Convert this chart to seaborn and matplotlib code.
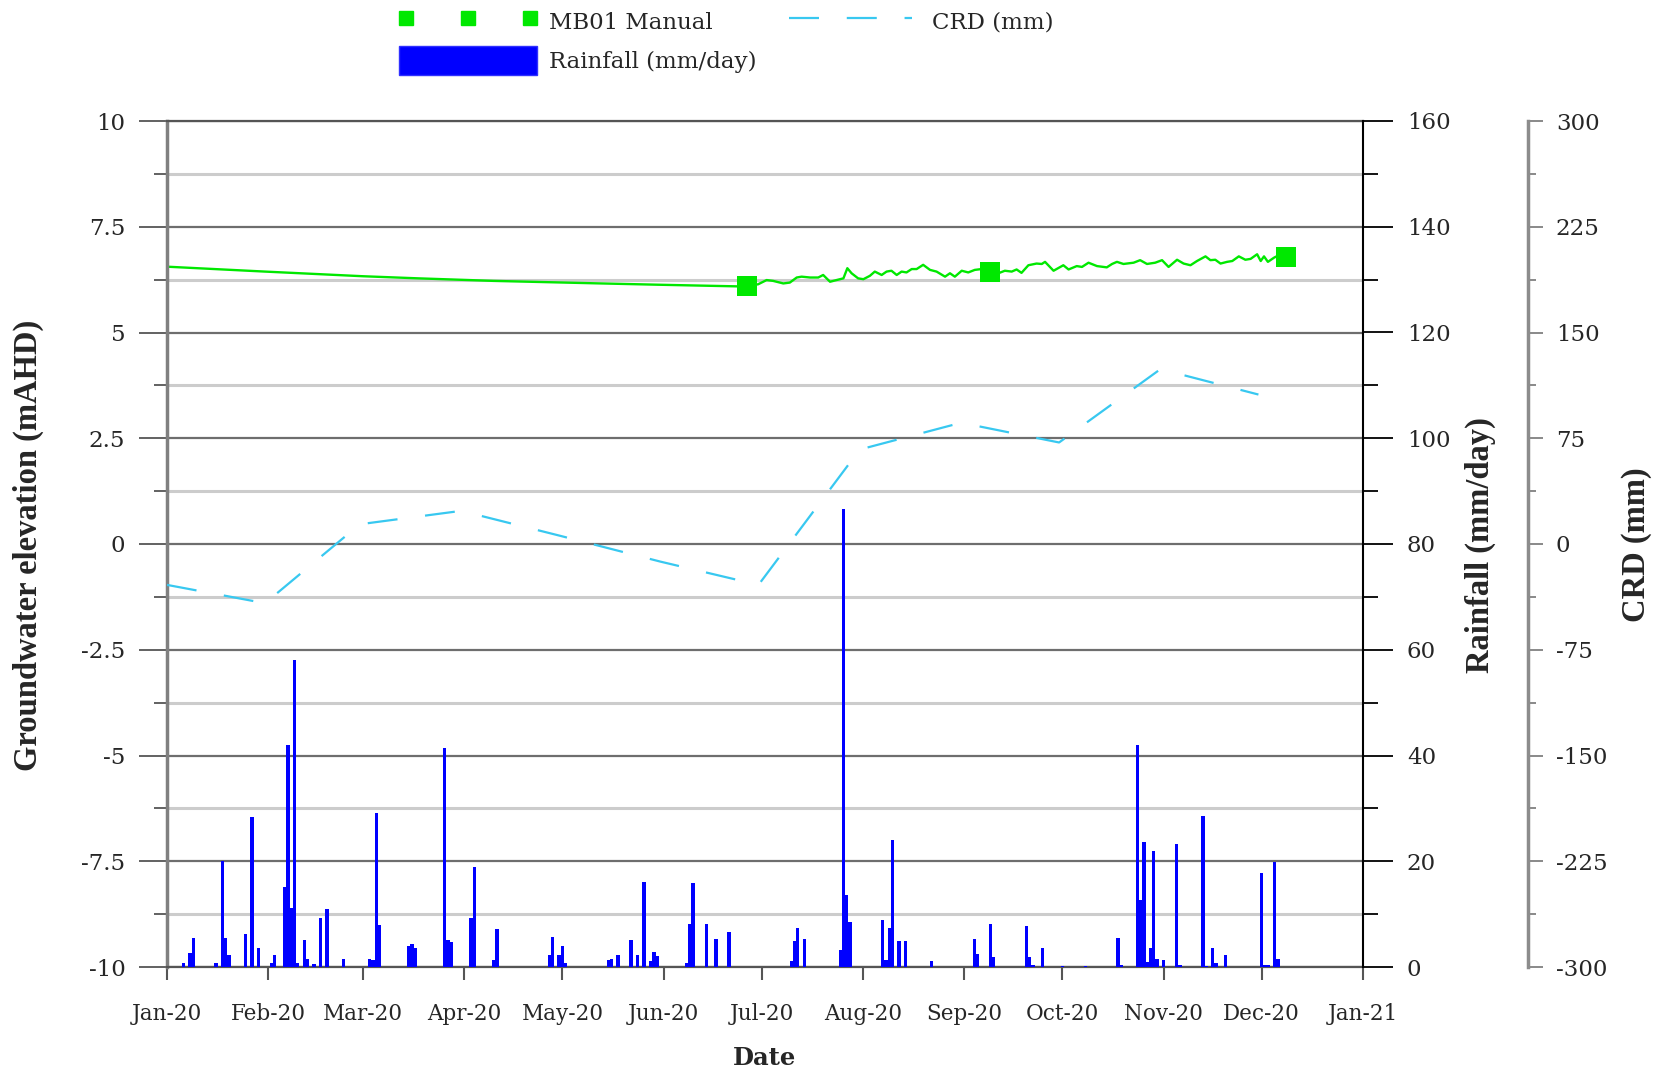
import matplotlib
matplotlib.use("Agg")
import matplotlib.dates as mdates
import matplotlib.pyplot as plt
import numpy as np
import pandas as pd
import seaborn as sns
from matplotlib.lines import Line2D
from matplotlib.patches import Patch
from matplotlib.ticker import FuncFormatter, MultipleLocator

START = pd.Timestamp("2020-01-01")
END = pd.Timestamp("2021-01-01")

# groundwater logger, days after 1 Jan 2020 / mAHD
gw_day = [0, 30, 60, 77, 100, 131, 150, 175, 177.4, 180.9, 183.5, 185.5, 188.6, 190.6,
          192.7, 194.2, 196.8, 199.3, 200.8, 202.9, 204.9, 207, 208.2, 209.5, 211.5,
          213.1, 215.1, 216.6, 218.7, 220.2, 221.7, 223.3, 224.8, 226.3, 227.9, 229.4,
          231.4, 233.5, 235.5, 238.1, 239.6, 241.1, 243.2, 245.2, 247.2, 249.3, 251.8,
          254.4, 256.4, 258.5, 260, 261.5, 263.6, 266.1, 267.7, 268.7, 271.3, 274.3,
          275.9, 278.4, 280, 282, 284.6, 287.6, 289.2, 290.7, 292.7, 295.8, 297.8,
          299.9, 302.4, 304.5, 306.5, 309.1, 311.1, 313.2, 315.2, 317.8, 319.3, 320.8,
          322.4, 324.4, 326, 328, 330, 331.6, 333.6, 334.7, 335.7, 336.9, 338.8, 340.3,
          342.3]
gw_level = [6.556, 6.44, 6.33, 6.28, 6.22, 6.163, 6.13, 6.09, 6.10, 6.14, 6.24, 6.22,
            6.16, 6.18, 6.30, 6.32, 6.30, 6.30, 6.36, 6.20, 6.24, 6.28, 6.52, 6.40, 6.28,
            6.26, 6.34, 6.44, 6.36, 6.44, 6.46, 6.36, 6.44, 6.42, 6.50, 6.50, 6.60, 6.48,
            6.44, 6.32, 6.40, 6.32, 6.46, 6.42, 6.48, 6.50, 6.44, 6.40, 6.46, 6.44, 6.49,
            6.41, 6.59, 6.63, 6.62, 6.67, 6.46, 6.59, 6.49, 6.57, 6.55, 6.65, 6.57, 6.54,
            6.62, 6.67, 6.62, 6.65, 6.71, 6.62, 6.65, 6.71, 6.55, 6.72, 6.63, 6.59, 6.69,
            6.80, 6.71, 6.72, 6.63, 6.67, 6.69, 6.80, 6.72, 6.74, 6.85, 6.69, 6.80, 6.67,
            6.77, 6.83, 6.78]

manual_day = [177.4, 251.8, 342.3]
manual_level = [6.106, 6.44, 6.78]

crd_day = [0, 30, 59, 90, 120, 151, 181, 212, 243, 273, 304, 334]
crd_mm = [-29, -42, 14, 23.5, 6, -12.5, -29, 67, 86, 72, 124, 106]

rain_day = [5, 7, 8, 15, 17, 18, 19, 24, 26, 28, 32, 33, 36, 37, 38, 39, 40, 42, 43, 45,
            47, 49, 54, 62, 63, 64, 65, 74, 75, 76, 85, 86, 87, 93, 94, 100, 101, 117,
            118, 120, 121, 122, 135, 136, 138, 142, 144, 146, 148, 149, 150, 159, 160,
            161, 165, 168, 172, 191, 192, 193, 195, 206, 207, 208, 209, 219, 220, 221,
            222, 224, 226, 234, 247, 248, 252, 253, 263, 264, 265, 268, 274, 281, 291,
            292, 297, 298, 299, 300, 301, 302, 303, 305, 309, 310, 317, 318, 320, 321,
            324, 335, 336, 337, 339, 340]
rain_mm = [0.8, 2.7, 5.4, 0.8, 20, 5.4, 2.2, 6.2, 28.3, 3.6, 0.8, 2.2, 15.2, 41.9, 11.1,
           58.1, 0.8, 5.1, 1.6, 0.5, 9.2, 10.9, 1.6, 1.6, 1.3, 29.2, 7.9, 4.0, 4.4, 3.6,
           41.5, 5.1, 4.8, 9.2, 19, 1.3, 7.1, 2.2, 5.7, 2.2, 4.0, 0.8, 1.3, 1.6, 2.2, 5.1,
           2.2, 16, 1.1, 2.8, 2.1, 0.7, 8.1, 15.9, 8.1, 5.3, 6.7, 1.1, 4.9, 7.4, 5.3, 3.2,
           86.7, 13.7, 8.5, 8.8, 1.4, 7.4, 24, 4.9, 4.9, 1.1, 5.3, 2.5, 8.1, 1.8, 7.8, 1.9,
           0.3, 3.6, 0.1, 0.1, 5.4, 0.4, 41.9, 12.7, 23.6, 1.0, 3.6, 21.9, 1.6, 1.3, 23.3,
           0.3, 28.6, 0.1, 3.6, 0.8, 2.2, 17.7, 0.4, 0.4, 19.8, 1.6]

GREEN = "#00E800"
CRD_COLOR = "#38C8F0"
RAIN_COLOR = "#0000FF"


def to_dates(days):
    return START + pd.to_timedelta(np.array(days, dtype=float), unit="D")


sns.set_style("white")
plt.rcParams["font.family"] = ["DejaVu Serif"]
plt.rcParams["axes.unicode_minus"] = False

W, H = 1655, 1073
fig = plt.figure(figsize=(W / 100, H / 100), dpi=100)
ax1 = fig.add_axes([167 / W, 1 - 967 / H, 1196 / W, 846 / H])
ax2 = ax1.twinx()
ax3 = ax1.twinx()

gw = pd.DataFrame({"date": to_dates(gw_day), "level": gw_level})
sns.lineplot(data=gw, x="date", y="level", ax=ax1, color=GREEN, lw=1.7)
manual = pd.DataFrame({"date": to_dates(manual_day), "level": manual_level})
sns.scatterplot(data=manual, x="date", y="level", ax=ax1, marker="s", s=210,
                color=GREEN, edgecolor=GREEN, linewidth=0, zorder=5)

ax2.bar(to_dates(rain_day), rain_mm, width=1.0, color=RAIN_COLOR, linewidth=0)

crd = pd.DataFrame({"date": to_dates(crd_day), "crd": crd_mm})
sns.lineplot(data=crd, x="date", y="crd", ax=ax3, color=CRD_COLOR, lw=1.6)
ax3.lines[-1].set_dashes((13.5, 12.5))

# main axis
ax1.set_xlim(START, END)
ax1.set_ylim(-10, 10)
ax1.xaxis.set_major_locator(mdates.MonthLocator())
ax1.xaxis.set_major_formatter(mdates.DateFormatter("%b-%y"))
ax1.yaxis.set_major_locator(MultipleLocator(2.5))
ax1.yaxis.set_minor_locator(MultipleLocator(1.25))
ax1.yaxis.set_major_formatter(FuncFormatter(lambda v, p: f"{v:g}"))
ax1.grid(axis="y", which="major", color="#6e6e6e", lw=1.6)
ax1.grid(axis="y", which="minor", color="#cccccc", lw=2.2)
ax1.grid(axis="x", visible=False)
ax1.set_axisbelow(True)
ax1.tick_params(axis="y", which="major", left=True, length=20, width=1.3,
                color="#555555", pad=10, labelsize=16.5)
ax1.tick_params(axis="y", which="minor", left=True, length=9.5, width=1.3,
                color="#555555")
ax1.tick_params(axis="x", which="major", bottom=True, length=9, width=1.5,
                color="#555555", pad=17, labelsize=15.5)
ax1.set_xlabel("")
ax1.set_ylabel("")
ax1.spines["left"].set_color("#808080")
ax1.spines["left"].set_linewidth(2.5)
for side in ["top", "bottom"]:
    ax1.spines[side].set_color("#555555")
    ax1.spines[side].set_linewidth(1.6)
ax1.spines["right"].set_visible(False)

# rainfall axis
ax2.set_ylim(0, 160)
ax2.yaxis.set_major_locator(MultipleLocator(20))
ax2.yaxis.set_minor_locator(MultipleLocator(10))
ax2.tick_params(axis="y", which="major", right=True, length=21.5, width=1.3,
                color="black", pad=10, labelsize=16.5)
ax2.tick_params(axis="y", which="minor", right=True, length=10.8, width=1.3,
                color="black")
ax2.set_ylabel("")
for side in ["left", "top", "bottom"]:
    ax2.spines[side].set_visible(False)
ax2.spines["right"].set_color("black")
ax2.spines["right"].set_linewidth(1.5)

# CRD axis, 165 px to the right of the rainfall spine
ax3.set_ylim(-300, 300)
ax3.yaxis.set_major_locator(MultipleLocator(75))
ax3.yaxis.set_minor_locator(MultipleLocator(37.5))
ax3.spines["right"].set_position(("axes", 1 + 165 / 1196))
ax3.tick_params(axis="y", which="major", right=True, length=11, width=1.3,
                color="#808080", pad=9, labelsize=16.5)
ax3.tick_params(axis="y", which="minor", right=True, length=6, width=1.3,
                color="#808080")
ax3.set_ylabel("")
for side in ["left", "top", "bottom"]:
    ax3.spines[side].set_visible(False)
ax3.spines["right"].set_color("#8c8c8c")
ax3.spines["right"].set_linewidth(2.5)

# axis titles
title_font = dict(family=["Liberation Serif"], fontweight="bold", fontsize=23.5)
fig.text(28 / W, 1 - 545 / H, "Groundwater elevation (mAHD)", rotation=90,
         ha="center", va="center", **title_font)
fig.text(1480 / W, 1 - 545 / H, "Rainfall (mm/day)", rotation=90,
         ha="center", va="center", **title_font)
fig.text(1636 / W, 1 - 545 / H, "CRD (mm)", rotation=90,
         ha="center", va="center", **title_font)
fig.text(764 / W, 1 - 1058 / H, "Date", ha="center", va="center",
         fontweight="bold", fontsize=17.5)

handles = [
    Line2D([], [], linestyle="none", marker="s", ms=10, color=GREEN, mec=GREEN),
    Patch(facecolor=RAIN_COLOR, edgecolor="#3030ff"),
    Line2D([], [], color=CRD_COLOR, lw=1.6, dashes=(13.5, 12.5)),
]
labels = ["MB01 Manual", "Rainfall (mm/day)", "CRD (mm)"]
fig.legend(handles, labels, loc="upper left", bbox_to_anchor=(399 / W, 1 - 7 / H),
           ncol=2, frameon=False, handlelength=6.0, handleheight=1.55,
           handletextpad=0.55, columnspacing=1.1, labelspacing=0.45, borderpad=0,
           borderaxespad=0, numpoints=3, fontsize=16.5)

fig.savefig("out.png", dpi=100)
